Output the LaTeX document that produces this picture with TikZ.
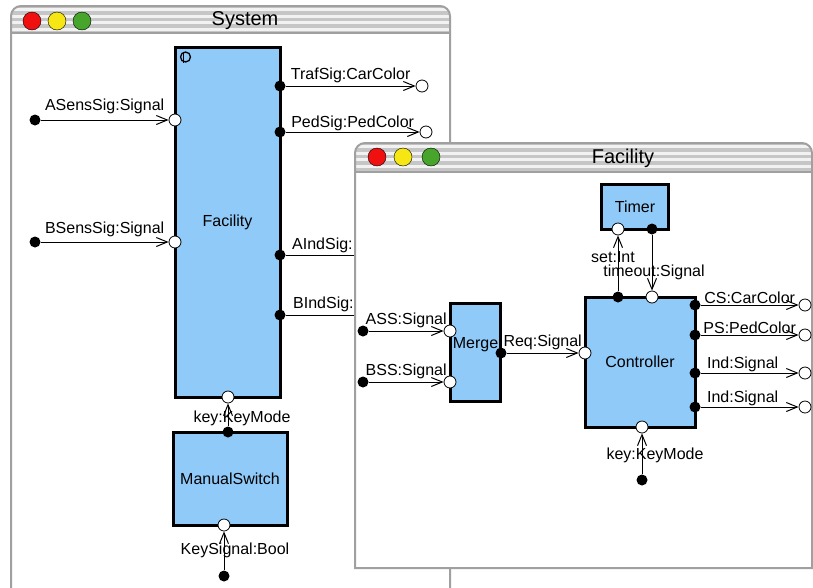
\documentclass[tikz,border=0pt]{standalone}
\usepackage{fontspec}
\setmainfont{Liberation Sans}
\usepackage{tikz}
\definecolor{blockBlue}{RGB}{144,202,249}
\definecolor{winRed}{RGB}{240,16,16}
\definecolor{winYellow}{RGB}{245,230,20}
\definecolor{winGreen}{RGB}{70,165,42}
\definecolor{frameGray}{RGB}{160,160,160}
\definecolor{barGray}{RGB}{198,198,198}
\definecolor{barLight}{RGB}{242,242,242}
\usetikzlibrary{arrows.meta}

\begin{document}
\begin{tikzpicture}[x=1pt, y=-1pt, font=\fontsize{16}{19}\selectfont,
        block/.style={draw, line width=3pt, fill=blockBlue, inner sep=0pt},
        inport/.style={circle, draw, fill=white, line width=0.8pt, inner sep=0pt, minimum size=12pt},
        outport/.style={circle, fill=black, inner sep=0pt, minimum size=11pt},
        flow/.style={line width=1pt, -{Straight Barb[length=11pt, width=9pt]}},
        lab/.style={above, inner sep=3pt},
        winframe/.style={draw=frameGray, line width=2pt}]
        \useasboundingbox (0,0) rectangle (813,587);
        \clip (0,0) rectangle (813,587);

        % System window
        \fill[white] (11,620) -- (11,16) arc (180:270:10) -- (440,6) arc (270:360:10) -- (450,620) -- cycle;
        \begin{scope}
            \clip (11,16) arc (180:270:10) -- (440,6) arc (270:360:10) -- (450,33) -- (11,33) -- cycle;
            \fill[barGray] (11,6) rectangle (450,33);
            \foreach \s in {8,14.5,21,27.5}
                \fill[barLight] (11,\s) rectangle (450,\s+3.2);
        \end{scope}
        \draw[winframe] (11,620) -- (11,16) arc (180:270:10) -- (440,6) arc (270:360:10) -- (450,620);
        \draw[winframe] (11,33) -- (450,33);
        \filldraw[fill=winRed]    (32,21) circle (9);
        \filldraw[fill=winYellow] (57,21) circle (9);
        \filldraw[fill=winGreen]  (82,21) circle (9);
        \node[font=\fontsize{20}{24}\selectfont] (sys-title) at (245,21) {System};

        \node[block, minimum width=105pt, minimum height=350pt] (fac) at (227.5,222) {Facility};
        \node[block, minimum width=114pt, minimum height=93pt]  (msw) at (230,478.5) {ManualSwitch};
        \draw[line width=1.3pt] (185.5,57) circle (5);
        \draw[line width=1.3pt] (183.5,51.5) -- (183.5,62.5);

        \node[inport]  (fac-asens) at (175,120) {};
        \node[inport]  (fac-bsens) at (175,242) {};
        \node[outport] (fac-traf)  at (280, 86) {};
        \node[outport] (fac-ped)   at (280,132) {};
        \node[outport] (fac-aind)  at (280,255) {};
        \node[outport] (fac-bind)  at (280,315) {};
        \node[inport]  (fac-key)   at (228,397) {};
        \node[outport] (msw-key)   at (228,432) {};
        \node[inport]  (msw-sig)   at (224,525) {};

        \node[outport] (asens)  at ( 35,120) {};
        \node[outport] (bsens)  at ( 35,242) {};
        \node[inport]  (traf)   at (422, 86) {};
        \node[inport]  (ped)    at (426,132) {};
        \node[outport] (keysig) at (224,576) {};
        \coordinate (aind) at (360,255);
        \coordinate (bind) at (360,315);

        \draw[flow] (asens) -- (fac-asens) node[lab, midway, inner sep=6pt] {ASensSig:Signal};
        \draw[flow] (bsens) -- (fac-bsens) node[lab, midway, inner sep=5pt] {BSensSig:Signal};
        \draw[flow] (fac-traf) -- (traf) node[lab, midway] {TrafSig:CarColor};
        \draw[flow] (fac-ped)  -- (ped)  node[lab, midway, inner sep=1pt] {PedSig:PedColor};
        \draw[line width=1pt] (fac-aind) -- (aind) node[pos=0, anchor=south west, xshift=4pt, inner sep=2pt] {AIndSig:};
        \draw[line width=1pt] (fac-bind) -- (bind) node[pos=0, anchor=south west, xshift=4pt, inner sep=3pt] {BIndSig:};
        \draw[flow] (msw-key) -- (fac-key) node[midway, xshift=14pt, yshift=-4pt] {key:KeyMode};
        \draw[flow] (keysig)  -- (msw-sig) node[midway, xshift=11pt] {KeySignal:Bool};

        % Facility window
        \fill[white] (355,568) -- (355,153) arc (180:270:10) -- (802,143) arc (270:360:10) -- (812,568) -- cycle;
        \begin{scope}
            \clip (355,153) arc (180:270:10) -- (802,143) arc (270:360:10) -- (812,172) -- (355,172) -- cycle;
            \fill[barGray] (355,143) rectangle (812,172);
            \foreach \s in {145,151.5,158,164.5}
                \fill[barLight] (355,\s) rectangle (812,\s+3.2);
        \end{scope}
        \draw[winframe] (355,568) -- (355,153) arc (180:270:10) -- (802,143) arc (270:360:10) -- (812,568) -- cycle;
        \draw[winframe] (355,172) -- (812,172);
        \filldraw[fill=winRed]    (377,157) circle (9);
        \filldraw[fill=winYellow] (403,157) circle (9);
        \filldraw[fill=winGreen]  (431,157) circle (9);
        \node[font=\fontsize{20}{24}\selectfont] (fac-title) at (623,158) {Facility};

        \node[block, minimum width=67pt,  minimum height=45pt] (timer) at (635,206.5) {Timer};
        \node[block, minimum width=110pt, minimum height=130pt] (ctrl) at (640,362) {Controller};
        \node[block, minimum width=50pt,  minimum height=98pt, text depth=20pt] (merge) at (475.5,352.5) {Merge};

        \node[inport]  (timer-set) at (618,229) {};
        \node[outport] (timer-out) at (652,229) {};
        \node[outport] (ctrl-set)  at (618,297) {};
        \node[inport]  (ctrl-tmo)  at (652,297) {};
        \node[inport]  (ctrl-req)  at (585,353) {};
        \node[outport] (ctrl-cs)   at (695,305) {};
        \node[outport] (ctrl-ps)   at (695,335) {};
        \node[outport] (ctrl-ia)   at (695,373) {};
        \node[outport] (ctrl-ib)   at (695,407) {};
        \node[inport]  (ctrl-key)  at (642,427) {};
        \node[inport]  (merge-a)   at (450,331) {};
        \node[inport]  (merge-b)   at (450,382) {};
        \node[outport] (merge-req) at (501,353) {};

        \node[outport] (ass)  at (363,331) {};
        \node[outport] (bss)  at (363,382) {};
        \node[inport]  (cs)   at (805,305) {};
        \node[inport]  (ps)   at (805,335) {};
        \node[inport]  (ia)   at (805,373) {};
        \node[inport]  (ib)   at (805,407) {};
        \node[outport] (fkey) at (642,480) {};

        \draw[flow] (ctrl-set)  -- (timer-set) node[midway, xshift=-5pt, yshift=6pt] {set:Int};
        \draw[flow] (timer-out) -- (ctrl-tmo)  node[midway, xshift=2pt, yshift=-10pt] {timeout:Signal};
        \draw[flow] (ass) -- (merge-a) node[lab, midway] {ASS:Signal};
        \draw[flow] (bss) -- (merge-b) node[lab, midway] {BSS:Signal};
        \draw[flow] (merge-req) -- (ctrl-req) node[lab, midway] {Req:Signal};
        \draw[flow] (ctrl-cs) -- (cs) node[lab, midway, inner sep=1pt] {CS:CarColor};
        \draw[flow] (ctrl-ps) -- (ps) node[lab, midway, inner sep=1pt] {PS:PedColor};
        \draw[flow] (ctrl-ia) -- (ia) node[lab, midway, inner sep=1pt, xshift=-7pt] {Ind:Signal};
        \draw[flow] (ctrl-ib) -- (ib) node[lab, midway, inner sep=1pt, xshift=-7pt] {Ind:Signal};
        \draw[flow] (fkey) -- (ctrl-key) node[midway, xshift=13pt, yshift=-2pt] {key:KeyMode};
    \end{tikzpicture}
\end{document}
